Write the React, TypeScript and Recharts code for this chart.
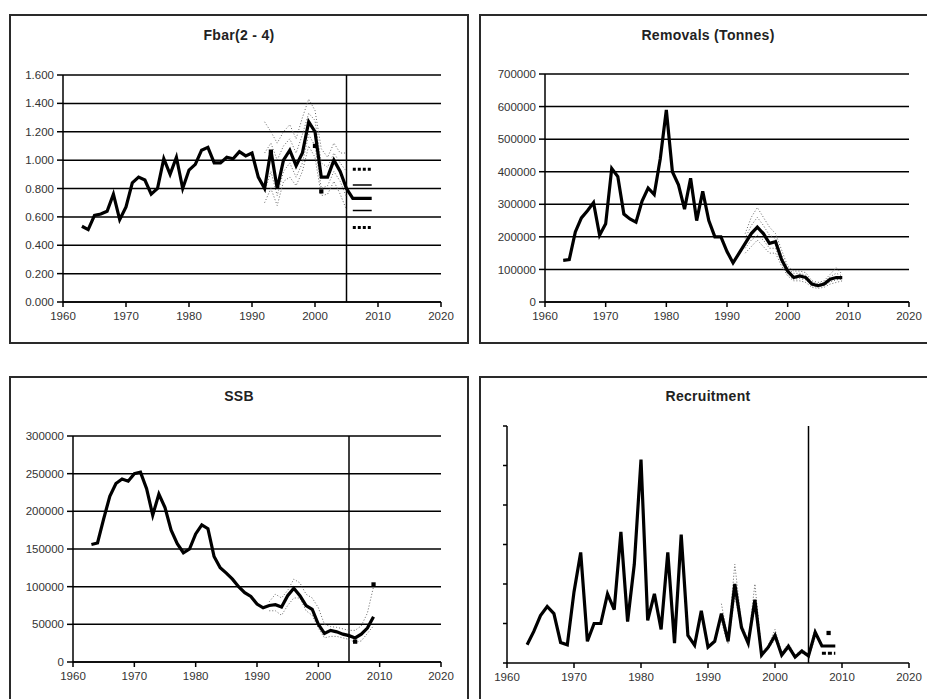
import React from 'react';
import { ComposedChart, Line, XAxis, YAxis, ZAxis, CartesianGrid, ReferenceLine, Scatter } from 'recharts';

// ---------- shared categories ----------
const years = [
  1963, 1964, 1965, 1966, 1967, 1968, 1969, 1970, 1971, 1972,
  1973, 1974, 1975, 1976, 1977, 1978, 1979, 1980, 1981, 1982,
  1983, 1984, 1985, 1986, 1987, 1988, 1989, 1990, 1991, 1992,
  1993, 1994, 1995, 1996, 1997, 1998, 1999, 2000, 2001, 2002,
  2003, 2004, 2005, 2006, 2007, 2008, 2009,
];
const xTicks = [1960, 1970, 1980, 1990, 2000, 2010, 2020];
const assessmentYear = 2005;

// ---------- Fbar(2 - 4) ----------
const fbarTitle = 'Fbar(2 - 4)';
const fbarMain = [
  0.534, 0.51, 0.61, 0.62, 0.64, 0.76, 0.58, 0.67, 0.84, 0.88,
  0.86, 0.76, 0.80, 1.01, 0.90, 1.02, 0.80, 0.93, 0.97, 1.07,
  1.09, 0.98, 0.98, 1.02, 1.01, 1.06, 1.03, 1.05, 0.88, 0.80,
  1.07, 0.80, 1.00, 1.07, 0.96, 1.05, 1.27, 1.20, 0.88, 0.88,
  1.00, 0.92, 0.80, 0.73, 0.73, 0.73, 0.73,
];
const fbarBandYears = [1992, 1993, 1994, 1995, 1996, 1997, 1998, 1999, 2000, 2001, 2002, 2003, 2004, 2005];
const fbarHi = [1.27, 1.20, 1.12, 1.20, 1.25, 1.15, 1.30, 1.43, 1.35, 1.08, 1.02, 1.12, 1.05, 1.05];
const fbarHi2 = [1.05, 1.12, 1.00, 1.10, 1.15, 1.05, 1.18, 1.33, 1.28, 0.98, 0.95, 1.05, 0.98, 0.92];
const fbarLo2 = [0.78, 0.92, 0.75, 0.92, 0.98, 0.88, 0.98, 1.18, 1.10, 0.80, 0.82, 0.92, 0.85, 0.74];
const fbarLo = [0.70, 0.80, 0.68, 0.85, 0.88, 0.82, 0.92, 1.10, 1.02, 0.75, 0.76, 0.85, 0.76, 0.65];
const fbarProjYears = [2006, 2007, 2008, 2009];
const fbarP95 = [0.935, 0.935, 0.935, 0.935];
const fbarP75 = [0.825, 0.825, 0.825, 0.825];
const fbarP25 = [0.645, 0.645, 0.645, 0.645];
const fbarP5 = [0.525, 0.525, 0.525, 0.525];
const fbarMarkYears = [1993, 2000, 2001];
const fbarMarkValues = [1.06, 1.1, 0.78];
const fbarTicks = [0, 0.2, 0.4, 0.6, 0.8, 1.0, 1.2, 1.4, 1.6];

// ---------- Removals (Tonnes) ----------
const remTitle = 'Removals (Tonnes)';
const remMain = [
  128000, 130000, 215000, 258000, 280000, 305000, 205000, 240000, 410000, 385000,
  270000, 255000, 245000, 310000, 350000, 330000, 440000, 590000, 400000, 360000,
  285000, 380000, 250000, 340000, 250000, 200000, 200000, 155000, 120000, 150000,
  180000, 210000, 230000, 210000, 180000, 185000, 130000, 95000, 75000, 80000,
  75000, 55000, 50000, 55000, 70000, 75000, 75000,
];
const remBandYears = [1993, 1994, 1995, 1996, 1997, 1998, 1999, 2000, 2001, 2002, 2003, 2004, 2005, 2006, 2007, 2008, 2009];
const remHi = [210000, 260000, 290000, 260000, 230000, 210000, 160000, 110000, 95000, 95000, 90000, 65000, 60000, 65000, 85000, 105000, 85000];
const remHi2 = [195000, 235000, 260000, 235000, 205000, 195000, 145000, 102000, 88000, 88000, 82000, 60000, 56000, 60000, 78000, 88000, 80000];
const remLo2 = [165000, 190000, 205000, 190000, 165000, 165000, 120000, 85000, 70000, 72000, 68000, 50000, 46000, 50000, 62000, 68000, 70000];
const remLo = [150000, 170000, 190000, 170000, 150000, 150000, 110000, 80000, 65000, 65000, 60000, 45000, 42000, 45000, 55000, 60000, 65000];
const remTicks = [0, 100000, 200000, 300000, 400000, 500000, 600000, 700000];

// ---------- SSB ----------
const ssbTitle = 'SSB';
const ssbMain = [
  156000, 158000, 190000, 220000, 237000, 243000, 240000, 250000, 252000, 230000,
  195000, 223000, 205000, 175000, 157000, 145000, 150000, 170000, 182000, 177000,
  140000, 125000, 118000, 110000, 100000, 92000, 87000, 77000, 72000, 75000,
  76000, 73000, 88000, 98000, 88000, 75000, 70000, 50000, 38000, 42000,
  40000, 37000, 35000, 32000, 37000, 45000, 60000,
];
const ssbBandYears = [1992, 1993, 1994, 1995, 1996, 1997, 1998, 1999, 2000, 2001, 2002, 2003, 2004, 2005, 2006, 2007, 2008, 2009];
const ssbHi = [80000, 90000, 85000, 95000, 110000, 105000, 90000, 85000, 72000, 50000, 47000, 46000, 44000, 42000, 42000, 48000, 65000, 100000];
const ssbLo = [68000, 68000, 62000, 75000, 85000, 85000, 68000, 62000, 45000, 32000, 34000, 34000, 32000, 30000, 26000, 28000, 38000, 48000];
const ssbMarkYears = [2006, 2009];
const ssbMarkValues = [27000, 103000];
const ssbTicks = [0, 50000, 100000, 150000, 200000, 250000, 300000];

// ---------- Recruitment ----------
const recTitle = 'Recruitment';
const recMain = [
  0.46, 0.8, 1.2, 1.43, 1.25, 0.52, 0.46, 1.8, 2.8, 0.55,
  1.0, 1.0, 1.75, 1.35, 3.32, 1.05, 2.5, 5.15, 1.08, 1.75,
  0.85, 2.8, 0.5, 3.25, 0.7, 0.45, 1.32, 0.4, 0.55, 1.25,
  0.55, 2.0, 0.9, 0.5, 1.6, 0.2, 0.4, 0.7, 0.2, 0.42,
  0.15, 0.3, 0.18, 0.78, 0.43, 0.43, 0.43,
];
const recBandYears = [1992, 1993, 1994, 1995, 1996, 1997, 1998, 1999, 2000, 2001, 2002, 2003, 2004, 2005, 2006];
const recHi = [1.5, 0.6, 2.5, 1.0, 0.55, 2.0, 0.28, 0.45, 0.85, 0.25, 0.5, 0.2, 0.35, 0.22, 0.9];
const recLo = [1.05, 0.48, 1.7, 0.85, 0.48, 1.4, 0.18, 0.35, 0.6, 0.17, 0.38, 0.13, 0.26, 0.14, 0.65];
const recProjYears = [2007, 2008, 2009];
const recP25 = [0.25, 0.25, 0.25];
const recMarkYears = [2008];
const recMarkValues = [0.76];
const recTicks = [0, 1, 2, 3, 4, 5, 6];

// ---------- helpers ----------
const pts = (xs: number[], ys: number[]) => xs.map((x, i) => ({ year: x, value: ys[i] }));

const FONT = '"Liberation Sans", Arial, sans-serif';
const tickStyle = { fontSize: 11.5, fill: '#333', fontFamily: FONT };

type Box = { left: number; top: number; width: number; height: number };

function Frame({ box, title, titleY }: { box: Box; title: string; titleY: number }) {
  return (
    <>
      <div
        style={{
          position: 'absolute', left: box.left, top: box.top, width: box.width, height: box.height,
          border: '2px solid #2a2a2a', boxSizing: 'border-box', background: '#fff',
        }}
      />
      <div
        style={{
          position: 'absolute', left: box.left, top: titleY - 9, width: box.width, height: 18,
          lineHeight: '18px', textAlign: 'center', fontFamily: FONT, fontWeight: 'bold', fontSize: 14,
          letterSpacing: 0.3, color: '#222', whiteSpace: 'pre',
        }}
      >
        {title}
      </div>
    </>
  );
}

const band = (data: any[], key: string) => (
  <Line
    key={key}
    data={data}
    dataKey="value"
    type="linear"
    stroke="#666"
    strokeWidth={1}
    strokeDasharray="1 2"
    dot={false}
    isAnimationActive={false}
  />
);

const mainLine = (data: any[]) => (
  <Line
    data={data}
    dataKey="value"
    type="linear"
    stroke="#000"
    strokeWidth={3.2}
    dot={false}
    isAnimationActive={false}
  />
);

const xAxis = (
  <XAxis
    type="number"
    dataKey="year"
    domain={[1960, 2020]}
    ticks={xTicks}
    interval={0}
    allowDataOverflow
    tick={tickStyle}
    tickSize={5}
    tickMargin={5}
    height={30}
    axisLine={{ stroke: '#000', strokeWidth: 1.5 }}
    tickLine={{ stroke: '#000', strokeWidth: 1.5 }}
  />
);

const zAxis = <ZAxis type="number" range={[18, 18]} />;

export default function App() {
  const fbarMainPts = pts(years, fbarMain);
  const remMainPts = pts(years, remMain);
  const ssbMainPts = pts(years, ssbMain);
  const recMainPts = pts(years, recMain);

  return (
    <div style={{ position: 'absolute', left: 0, top: 0, width: 927, height: 699, overflow: 'hidden', background: '#fff' }}>
      {/* Panel 1: Fbar */}
      <Frame box={{ left: 9, top: 14, width: 460, height: 330 }} title={fbarTitle} titleY={35} />
      <div style={{ position: 'absolute', left: 9, top: 14 }}>
        <ComposedChart width={459} height={329} margin={{ top: 61, right: 27, bottom: 11, left: 0 }}>
          <CartesianGrid vertical={false} stroke="#000" strokeWidth={1.5} />
          {xAxis}
          {zAxis}
          <YAxis
            type="number"
            domain={[0, 1.6]}
            ticks={fbarTicks}
            interval={0}
            width={54}
            tick={tickStyle}
            tickSize={6}
            tickMargin={3}
            tickFormatter={(v: number) => v.toFixed(3)}
            axisLine={{ stroke: '#000', strokeWidth: 1.5 }}
            tickLine={{ stroke: '#000', strokeWidth: 1.5 }}
          />
          <ReferenceLine x={assessmentYear} stroke="#000" strokeWidth={1.5} />
          {band(pts(fbarBandYears, fbarHi), 'h')}
          {band(pts(fbarBandYears, fbarHi2), 'h2')}
          {band(pts(fbarBandYears, fbarLo2), 'l2')}
          {band(pts(fbarBandYears, fbarLo), 'l')}
          <Line data={pts(fbarProjYears, fbarP95)} dataKey="value" stroke="#000" strokeWidth={3} strokeDasharray="3 2" dot={false} isAnimationActive={false} />
          <Line data={pts(fbarProjYears, fbarP5)} dataKey="value" stroke="#000" strokeWidth={3} strokeDasharray="3 2" dot={false} isAnimationActive={false} />
          <Line data={pts(fbarProjYears, fbarP75)} dataKey="value" stroke="#000" strokeWidth={1.5} dot={false} isAnimationActive={false} />
          <Line data={pts(fbarProjYears, fbarP25)} dataKey="value" stroke="#000" strokeWidth={1.5} dot={false} isAnimationActive={false} />
          {mainLine(fbarMainPts)}
          <Scatter data={pts(fbarMarkYears, fbarMarkValues)} dataKey="value" fill="#000" shape="square" isAnimationActive={false} />
        </ComposedChart>
      </div>

      {/* Panel 2: Removals */}
      <Frame box={{ left: 479, top: 14, width: 458, height: 330 }} title={remTitle} titleY={35} />
      <div style={{ position: 'absolute', left: 480, top: 14 }}>
        <ComposedChart width={447} height={329} margin={{ top: 60, right: 18, bottom: 11, left: 0 }}>
          <CartesianGrid vertical={false} stroke="#000" strokeWidth={1.5} />
          {xAxis}
          <YAxis
            type="number"
            domain={[0, 700000]}
            ticks={remTicks}
            interval={0}
            width={65}
            tick={tickStyle}
            tickSize={6}
            tickMargin={3}
            axisLine={{ stroke: '#000', strokeWidth: 1.5 }}
            tickLine={{ stroke: '#000', strokeWidth: 1.5 }}
          />
          {band(pts(remBandYears, remHi), 'h')}
          {band(pts(remBandYears, remHi2), 'h2')}
          {band(pts(remBandYears, remLo2), 'l2')}
          {band(pts(remBandYears, remLo), 'l')}
          {mainLine(remMainPts)}
        </ComposedChart>
      </div>

      {/* Panel 3: SSB */}
      <Frame box={{ left: 9, top: 376, width: 460, height: 330 }} title={ssbTitle} titleY={396} />
      <div style={{ position: 'absolute', left: 9, top: 376 }}>
        <ComposedChart width={459} height={323} margin={{ top: 60, right: 27, bottom: 7, left: 0 }}>
          <CartesianGrid vertical={false} stroke="#000" strokeWidth={1.5} />
          {xAxis}
          {zAxis}
          <YAxis
            type="number"
            domain={[0, 300000]}
            ticks={ssbTicks}
            interval={0}
            width={64}
            tick={tickStyle}
            tickSize={6}
            tickMargin={3}
            axisLine={{ stroke: '#000', strokeWidth: 1.5 }}
            tickLine={{ stroke: '#000', strokeWidth: 1.5 }}
          />
          <ReferenceLine x={assessmentYear} stroke="#000" strokeWidth={1.5} />
          {band(pts(ssbBandYears, ssbHi), 'h')}
          {band(pts(ssbBandYears, ssbLo), 'l')}
          {mainLine(ssbMainPts)}
          <Scatter data={pts(ssbMarkYears, ssbMarkValues)} dataKey="value" fill="#000" shape="square" isAnimationActive={false} />
        </ComposedChart>
      </div>

      {/* Panel 4: Recruitment */}
      <Frame box={{ left: 479, top: 376, width: 458, height: 330 }} title={recTitle} titleY={396} />
      <div style={{ position: 'absolute', left: 480, top: 376 }}>
        <ComposedChart width={447} height={323} margin={{ top: 50, right: 18, bottom: 6, left: 0 }}>
          {xAxis}
          {zAxis}
          <YAxis
            type="number"
            domain={[0, 6]}
            ticks={recTicks}
            interval={0}
            width={27}
            tick={tickStyle}
            tickFormatter={() => ''}
            tickSize={4}
            tickMargin={2}
            axisLine={{ stroke: '#000', strokeWidth: 1.5 }}
            tickLine={{ stroke: '#000', strokeWidth: 1.5 }}
          />
          <ReferenceLine x={assessmentYear} stroke="#000" strokeWidth={1.5} />
          {band(pts(recBandYears, recHi), 'h')}
          {band(pts(recBandYears, recLo), 'l')}
          <Line data={pts(recProjYears, recP25)} dataKey="value" stroke="#000" strokeWidth={3} strokeDasharray="4 2" dot={false} isAnimationActive={false} />
          {mainLine(recMainPts)}
          <Scatter data={pts(recMarkYears, recMarkValues)} dataKey="value" fill="#000" shape="square" isAnimationActive={false} />
        </ComposedChart>
      </div>
    </div>
  );
}
